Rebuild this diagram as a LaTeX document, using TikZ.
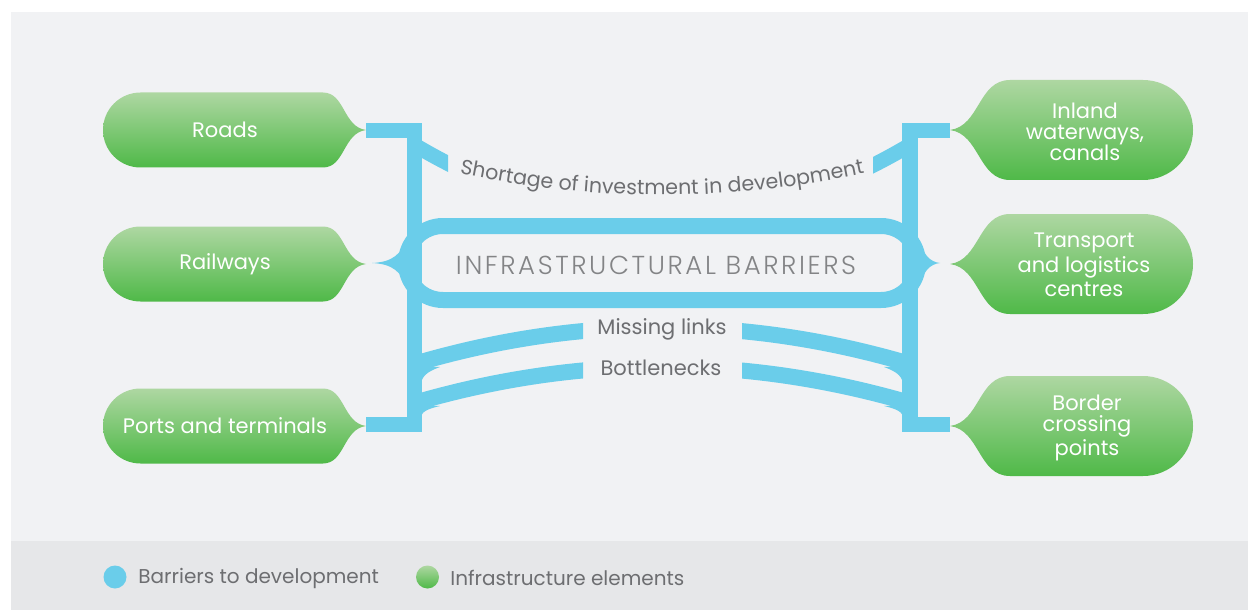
\documentclass[tikz,border=0pt]{standalone}
\usepackage{fontspec}
\setmainfont{Poppins}
\newfontfamily\lightfont{Poppins Light}
\usetikzlibrary{positioning, decorations.text}

\definecolor{panel}{HTML}{F1F2F4}
\definecolor{band}{HTML}{E6E7E9}
\definecolor{barblue}{HTML}{6ACDEA}
\definecolor{greenlt}{HTML}{AED7A2}
\definecolor{greendk}{HTML}{4FB948}
\definecolor{txtgray}{HTML}{6D6E71}

% green element pointing right (centre y), and pointing left
\newcommand{\leftelem}[1]{%
  \shade[top color=greenlt, bottom color=greendk]
    (323,#1-37.5) -- (140.5,#1-37.5) arc[start angle=90, end angle=270, radius=18.75pt]
    -- (323,#1+37.5) .. controls (345,#1+37.5) and (343,#1+3) .. (366,#1)
    .. controls (343,#1-3) and (345,#1-37.5) .. cycle;}
\newcommand{\rightelem}[1]{%
  \shade[top color=greenlt, bottom color=greendk]
    (1010,#1-50) -- (1143,#1-50) arc[start angle=90, end angle=-90, radius=25pt]
    -- (1010,#1+50) .. controls (978,#1+50) and (980,#1+4) .. (950,#1)
    .. controls (980,#1-4) and (978,#1-50) .. cycle;}

\begin{document}
\begin{tikzpicture}[x=0.5pt, y=-0.5pt,
  elemtext/.style={text=white, align=center, font=\fontsize{10.5}{10.5}\selectfont},
  elemtextr/.style={text=white, align=center, font=\fontsize{10.5}{10.5}\selectfont},
  barlabel/.style={text=txtgray, font=\fontsize{10.5}{13}\selectfont},
  legdot/.style={circle, minimum size=11.5pt, inner sep=0pt},
  legtext/.style={text=txtgray, anchor=west, font=\fontsize{10}{12}\selectfont, inner sep=0pt}
]
  \useasboundingbox (0,0) rectangle (1248,610);
  \fill[white] (0,0) rectangle (1248,610);
  \fill[panel] (11,12) rectangle (1248,541);
  \fill[band] (11,541) rectangle (1248,610);

  % green elements
  \leftelem{130}
  \leftelem{264}
  \leftelem{426}
  \rightelem{130}
  \rightelem{264}
  \rightelem{426}

  \node[elemtext] (roads) at (225,130) {Roads};
  \node[elemtext] (rail)  at (225,264) {Railways};
  \node[elemtext] (ports) at (225,426) {Ports and terminals};
  \node[elemtextr] (inland) at (1085,132) {Inland\\waterways,\\canals};
  \node[elemtextr, font=\fontsize{10.5}{12.25}\selectfont] (tlc) at (1084,265) {Transport\\and logistics\\centres};
  \node[elemtextr] (border) at (1087,428) {Border\\crossing\\points};

  % blue frame
  \fill[barblue] (407,123) rectangle (422,432);
  \fill[barblue] (366,123) rectangle (422,138);
  \fill[barblue] (366,417) rectangle (422,432);
  \fill[barblue] (902,123) rectangle (918,432);
  \fill[barblue] (902,123) rectangle (950,138);
  \fill[barblue] (902,417) rectangle (950,432);
  \draw[barblue, line width=8pt, rounded corners=18.5pt] (406,226) rectangle (918,300);
  \fill[barblue] (408,235) .. controls (402,255) and (392,262) .. (372,263)
    .. controls (392,264) and (402,271) .. (408,291) -- cycle;
  \fill[barblue] (917,235) .. controls (923,255) and (930,262) .. (940,263)
    .. controls (930,264) and (923,271) .. (917,291) -- cycle;

  \begin{scope}
    \clip (0,0) rectangle (448,610) (873,0) rectangle (1248,610);
    \draw[barblue, line width=7.5pt] (414.5,145) .. controls (579.5,242.9) and (745,242.9) .. (910,145);
  \end{scope}
  \begin{scope}
    \clip (0,0) rectangle (583,610) (742,0) rectangle (1248,610);
    \draw[barblue, line width=8pt] (414,364) .. controls (579.3,315.1) and (744.7,315.1) .. (910,364);
    \draw[barblue, line width=8pt] (414,403) .. controls (579.3,354.7) and (744.7,354.7) .. (910,403);
  \end{scope}
  % fillets where the arcs meet the uprights
  \fill[barblue] (421,366) -- (421,386) .. controls (421,377) and (426,372) .. (440,367) -- cycle;
  \fill[barblue] (421,405) -- (421,418) .. controls (421,412) and (427,409) .. (440,406) -- cycle;
  \fill[barblue] (903,366) -- (903,386) .. controls (903,377) and (898,372) .. (884,367) -- cycle;
  \fill[barblue] (903,405) -- (903,418) .. controls (903,412) and (897,409) .. (884,406) -- cycle;

  % labels
  \path[decorate, decoration={text along path, text align=center,
      text={|\fontsize{10.3}{12}\selectfont\color{txtgray}|Shortage of investment in development}}]
    (440,169.1) .. controls (588,203.6) and (736,203.6) .. (884,169.1);
  \node[text=txtgray!85, font=\lightfont\fontsize{13}{15}\selectfont\addfontfeatures{LetterSpace=10}] (barriers) at (656,265) {INFRASTRUCTURAL BARRIERS};
  \node[barlabel] (missing) at (662,329) {Missing links};
  \node[barlabel] (bottle) at (661,368) {Bottlenecks};

  % legend
  \node[legdot, fill=barblue] (dotbar) at (115,577) {};
  \node[legtext] (legbar) at (138,578) {Barriers to development};
  \node[legdot, top color=greenlt, bottom color=greendk] (dotelem) at (427.5,577) {};
  \node[legtext] (legelem) at (450,578) {Infrastructure elements};
\end{tikzpicture}
\end{document}
